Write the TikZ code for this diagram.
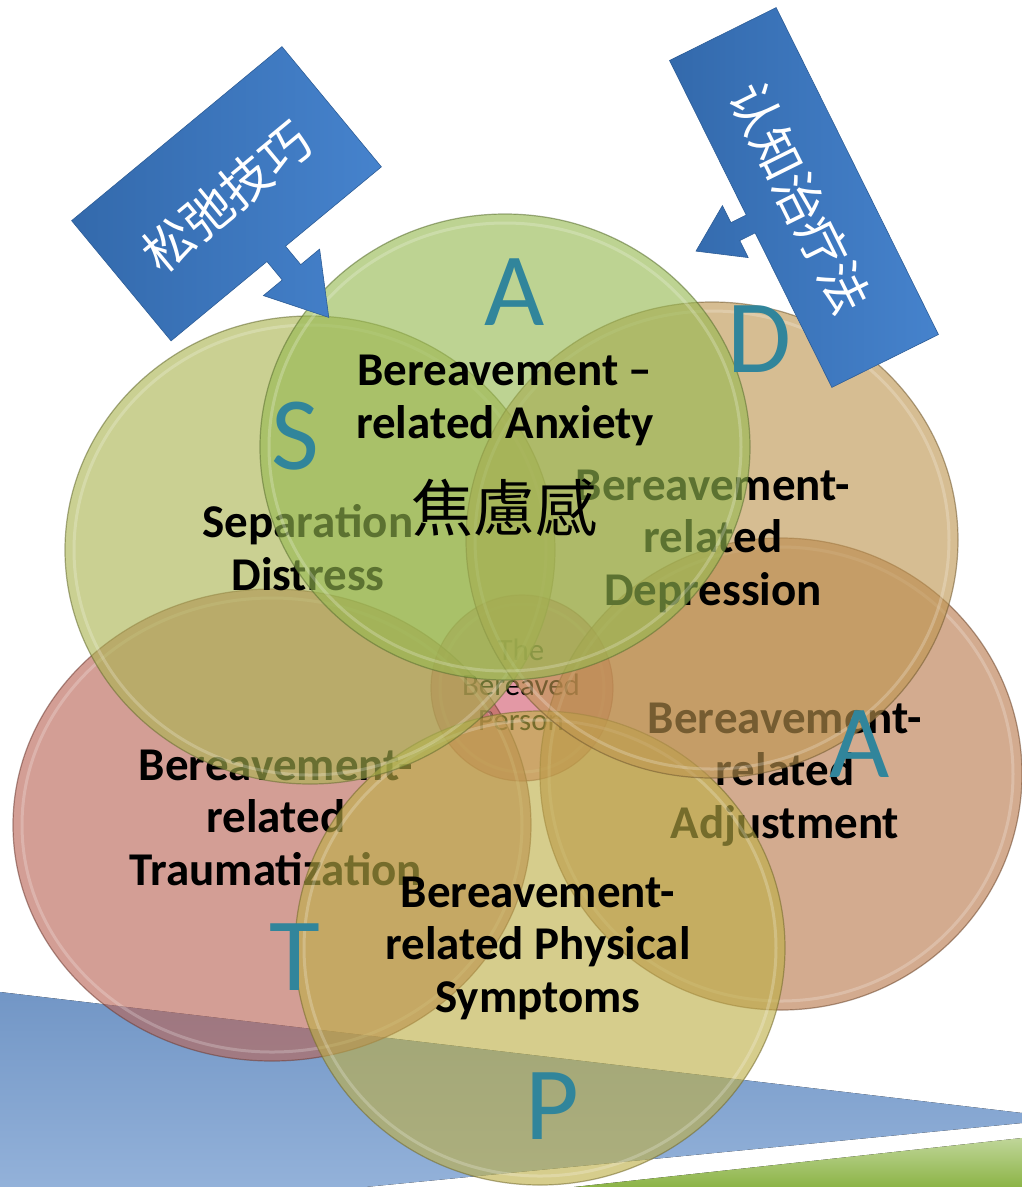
\documentclass[tikz,border=0pt]{standalone}
\usepackage{fontspec}
\setmainfont{Carlito}
\newfontfamily\cjktc{Noto Sans CJK TC}
\newfontfamily\cjksc{Noto Sans CJK SC}

\definecolor{anxgreen}{RGB}{150,185,80}
\definecolor{sepgreen}{RGB}{170,180,80}
\definecolor{deptan}{RGB}{190,150,80}
\definecolor{adjbrown}{RGB}{185,120,75}
\definecolor{traured}{RGB}{185,100,85}
\definecolor{physyellow}{RGB}{190,175,70}
\definecolor{personpink}{RGB}{210,90,110}
\definecolor{lettercol}{RGB}{49,133,155}
\definecolor{boxblue}{RGB}{60,124,202}
\definecolor{bandblue}{RGB}{120,158,208}
\definecolor{bandgreen}{RGB}{140,180,70}

\tikzset{
  petal/.style={fill=#1, fill opacity=0.62, draw=#1!60!black, draw opacity=0.55, line width=1.2pt},
  gloss/.style={draw=white, draw opacity=0.22, line width=3pt},
  ptext/.style={font=\bfseries\fontsize{47}{52.5}\selectfont, align=center, inner sep=0pt},
  persontext/.style={font=\fontsize{31}{35}\selectfont, align=center, inner sep=0pt},
  bigl/.style={font=\fontsize{104}{110}\selectfont, text=lettercol, inner sep=0pt},
  calloutbox/.style={draw=boxblue!75!black, line width=0.6pt, left color=boxblue!85!black, right color=boxblue!95!white},
  callouttext/.style={font=\cjksc\fontsize{50}{50}\selectfont, text=white, inner sep=0pt}
}

\begin{document}
\begin{tikzpicture}[x=1pt, y=-1pt]

  \newcommand\petal[6]{% colour, x, y, rx, ry, name
    \draw[petal=#1] (#2,#3) ellipse (#4pt and #5pt);
    \draw[gloss] (#2,#3) ellipse (#4pt-9pt and #5pt-9pt);
    \coordinate (#6) at (#2,#3);}

  \useasboundingbox[fill=white] (0,0) rectangle (1022,1187);

  %% bands at the bottom
  \fill[top color=bandblue!95!black, middle color=bandblue!40!white, bottom color=bandblue!80!white]
    (0,992) -- (1022,1113) -- (1022,1123) -- (365,1187) -- (0,1187) -- cycle;
  \fill[top color=bandgreen!55!white, bottom color=bandgreen]
    (574,1187) -- (1022,1138) -- (1022,1187) -- cycle;

  %% the person in the middle (base = last line)
  \petal{personpink}{522}{688}{91}{93}{person}
  \node[persontext, anchor=base] (persont) at (521,730) {The\\Bereaved\\Person};

  %% T
  \petal{traured}{272}{825}{259}{236}{trau}
  \node[ptext, anchor=base] (traut) at (276,885) {Bereavement-\\related\\Traumatization};

  %% A (adjustment)
  \petal{adjbrown}{781}{774}{241}{236}{adj}
  \node[ptext, anchor=base] (adjt) at (785,838) {Bereavement-\\related\\Adjustment};

  %% P
  \petal{physyellow}{540}{948}{245}{237}{phys}
  \node[ptext, anchor=base] (physt) at (538,1012) {Bereavement-\\related Physical\\Symptoms};

  %% S
  \petal{sepgreen}{310}{550}{245}{234}{sep}
  \node[ptext, anchor=base] (sept) at (308,590) {Separation\\Distress};

  %% D
  \petal{deptan}{712}{540}{246}{238}{dep}
  \node[ptext, anchor=base] (dept) at (713,605) {Bereavement-\\related\\Depression};

  %% A (anxiety)
  \petal{anxgreen}{505}{447}{245}{233}{anx}
  \node[ptext, anchor=base] (anxt) at (505,438) {Bereavement –\\related Anxiety};
  \node[font=\cjktc\fontsize{62}{62}\selectfont, inner sep=0pt] (anxcn) at (504,508) {焦慮感};

  %% the letters
  \node[bigl, anchor=base] (lA) at (515,325) {A};
  \node[bigl, anchor=base] (lD) at (759,372) {D};
  \node[bigl, anchor=base] (lS) at (295,469) {S};
  \node[bigl, anchor=base] (lA2) at (860,777) {A};
  \node[bigl, anchor=base] (lT) at (295,990) {T};
  \node[bigl, anchor=base] (lP) at (552,1139) {P};

  %% callout: relaxation
  \begin{scope}[shift={(226.5,193.75)}, rotate=39.6]
    \draw[calloutbox] (-136.5,-78) -- (136.5,-78) -- (136.5,78) -- (12,78) -- (12,102)
      -- (36.5,102) -- (0,160.5) -- (-36.5,102) -- (-12,102) -- (-12,78) -- (-136.5,78) -- cycle;
  \end{scope}
  \node[callouttext, rotate=39.6] (relax) at (226.5,197) {松弛技巧};

  %% callout: cognitive therapy
  \begin{scope}[shift={(804,197.5)}, rotate=-63.6]
    \draw[calloutbox] (-182.5,-59.5) -- (182.5,-59.5) -- (182.5,59.5) -- (10,59.5) -- (10,76.7)
      -- (29,76.7) -- (0,120.6) -- (-29,76.7) -- (-10,76.7) -- (-10,59.5) -- (-182.5,59.5) -- cycle;
  \end{scope}
  \node[callouttext, rotate=-63.6] (cbt) at (800,198) {认知治疗法};

\end{tikzpicture}
\end{document}
